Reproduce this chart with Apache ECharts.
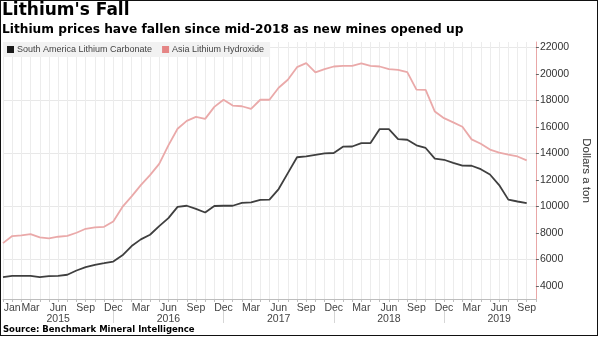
<!DOCTYPE html>
<html>
<head>
<meta charset="utf-8">
<script src="https://cdn.jsdelivr.net/npm/echarts@6/dist/echarts.min.js"></script>
<style>
html,body{margin:0;padding:0;background:#fff;}
#wrap{position:relative;width:600px;height:338px;overflow:hidden;}
#chart{position:absolute;left:0;top:0;width:600px;height:338px;}
#frame{position:absolute;left:0;top:0;width:596px;height:334px;border:1px solid #111;pointer-events:none;}
</style>
</head>
<body>
<div id="wrap"><div id="chart"></div><div id="frame"></div></div>
<script>
// Monthly categories, Dec 2014 .. Oct 2019
const categories = [
 'Dec 2014',
 'Jan 2015','Feb 2015','Mar 2015','Apr 2015','May 2015','Jun 2015','Jul 2015','Aug 2015','Sep 2015','Oct 2015','Nov 2015','Dec 2015',
 'Jan 2016','Feb 2016','Mar 2016','Apr 2016','May 2016','Jun 2016','Jul 2016','Aug 2016','Sep 2016','Oct 2016','Nov 2016','Dec 2016',
 'Jan 2017','Feb 2017','Mar 2017','Apr 2017','May 2017','Jun 2017','Jul 2017','Aug 2017','Sep 2017','Oct 2017','Nov 2017','Dec 2017',
 'Jan 2018','Feb 2018','Mar 2018','Apr 2018','May 2018','Jun 2018','Jul 2018','Aug 2018','Sep 2018','Oct 2018','Nov 2018','Dec 2018',
 'Jan 2019','Feb 2019','Mar 2019','Apr 2019','May 2019','Jun 2019','Jul 2019','Aug 2019','Sep 2019','Oct 2019'
];

const carbonate = [
 4650,
 4750,4750,4750,4650,4730,4750,4830,5150,5400,5580,5700,5830,
 6300,7000,7500,7850,8500,9100,9950,10040,9800,9530,10020,10040,
 10040,10250,10290,10490,10500,11300,12500,13700,13760,13880,14000,14020,
 14500,14510,14770,14770,15830,15830,15070,15020,14600,14400,13600,13510,
 13280,13070,13060,12800,12400,11600,10500,10360,10240,null
];

const hydroxide = [
 7220,
 7750,7800,7900,7650,7580,7700,7770,8000,8300,8400,8450,8850,
 9950,10750,11600,12350,13200,14600,15850,16450,16750,16600,17500,18040,
 17600,17550,17350,18040,18040,18950,19550,20500,20800,20100,20350,20550,
 20600,20600,20780,20600,20550,20350,20300,20130,18800,18790,17150,16650,
 16330,16000,15050,14720,14280,14050,13900,13760,13460,null
];

const monthTickLabels = ['Jan 2015','Mar','Jun','Sep','Dec'];
const yearTickLabels = ['2015','2016','2017','2018','2019'];
const yTickLabels = [4000,6000,8000,10000,12000,14000,16000,18000,20000,22000];

const seriesNames = ['South America Lithium Carbonate','Asia Lithium Hydroxide'];

const chart = echarts.init(document.getElementById('chart'), null, {renderer:'canvas'});
const FONT = 'Liberation Sans';

chart.setOption({
  animation:false,
  backgroundColor:'#fff',
  title:{
    text:"Lithium's Fall",
    subtext:'Lithium prices have fallen since mid-2018 as new mines opened up',
    left:2, top:2, padding:0, itemGap:5,
    textStyle:{fontFamily:'DejaVu Sans',fontWeight:'bold',fontSize:17,color:'#000'},
    subtextStyle:{fontFamily:'DejaVu Sans',fontWeight:'bold',fontSize:12.2,color:'#000'}
  },
  legend:{
    left:3, top:42, padding:[3,6,3,4],
    backgroundColor:'#f2f2f2',
    itemWidth:7, itemHeight:7, itemGap:10,
    icon:'rect',
    textStyle:{fontFamily:FONT,fontSize:9,color:'#444',padding:[0,0,0,-2]},
    data:[
      {name:seriesNames[0],itemStyle:{color:'#1a1a1a'}},
      {name:seriesNames[1],itemStyle:{color:'#e58585'}}
    ]
  },
  grid:{left:1,right:53,top:42,bottom:39,containLabel:false},
  xAxis:[
    {
      type:'category', data:categories, boundaryGap:false,
      axisLine:{show:true,lineStyle:{color:'#bdbdbd',width:1}},
      axisTick:{show:true,interval:0,length:3,lineStyle:{color:'#bdbdbd'}},
      splitLine:{show:true,interval:0,lineStyle:{color:'#ececec',width:1}},
      axisLabel:{
        interval:0, margin:4, fontFamily:FONT, fontSize:10.5, color:'#444',
        formatter:function(v){
          if (v === monthTickLabels[0]) return 'Jan';
          const p = v.split(' ');
          if (p[1] === '2014') return '';
          return monthTickLabels.indexOf(p[0]) > 0 ? p[0] : '';
        }
      }
    },
    {
      type:'category', data:categories, boundaryGap:false, position:'bottom', offset:12,
      axisLine:{show:false},
      axisTick:{show:true,length:12,lineStyle:{color:'#d6d6d6'},
        interval:function(i,v){ return v.split(' ')[0]==='Dec' && i>0; }},
      splitLine:{show:false},
      axisLabel:{
        interval:0, margin:3, fontFamily:FONT, fontSize:10.5, color:'#444',
        formatter:function(v){
          const p = v.split(' ');
          return (p[0]==='Jun' && yearTickLabels.indexOf(p[1])>=0) ? p[1] : '';
        }
      }
    }
  ],
  yAxis:{
    type:'value', position:'right', min:3000, max:22400, interval:1000,
    name:'Dollars a ton', nameLocation:'middle', nameRotate:-90, nameGap:41,
    nameTextStyle:{fontFamily:FONT,fontSize:11.5,color:'#333'},
    axisLine:{show:true,lineStyle:{color:'#e9a7a7',width:1}},
    axisTick:{show:true,length:3,customValues:yTickLabels,lineStyle:{color:'#666'}},
    splitLine:{show:true,lineStyle:{color:['rgba(0,0,0,0)','#e8e8e8'],width:1}},
    axisLabel:{
      margin:4, fontFamily:FONT, fontSize:10.5, color:'#333',
      formatter:function(v){ return yTickLabels.indexOf(v)>=0 ? String(v) : ''; }
    }
  },
  series:[
    {name:seriesNames[0],type:'line',data:carbonate,symbol:'none',
     lineStyle:{color:'#3f3f3f',width:1.8},itemStyle:{color:'#1a1a1a'},z:3},
    {name:seriesNames[1],type:'line',data:hydroxide,symbol:'none',
     lineStyle:{color:'#eaa9a9',width:1.8},itemStyle:{color:'#e58585'},z:2}
  ],
  graphic:[{
    type:'text', left:3, top:325,
    style:{text:'Source: Benchmark Mineral Intelligence',fontFamily:'DejaVu Sans',fontWeight:'bold',fontSize:8.5,fill:'#000'}
  }]
});
</script>
</body>
</html>
